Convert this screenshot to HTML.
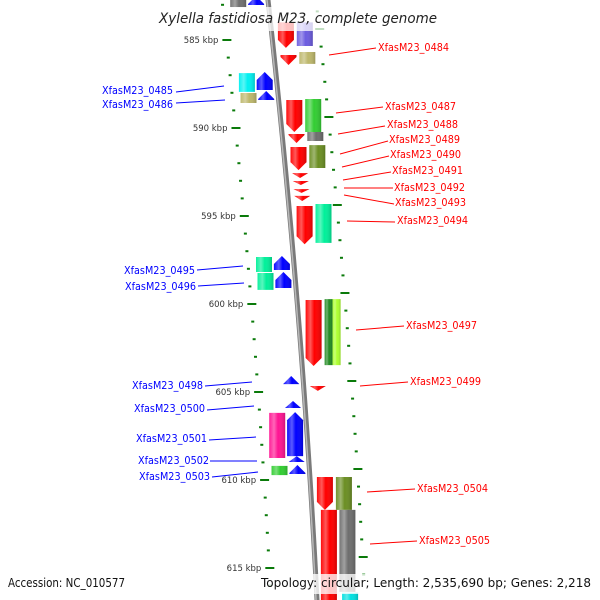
<!DOCTYPE html>
<html><head><meta charset="utf-8"><style>
html,body{margin:0;padding:0;background:#fff}
svg{display:block}
text{font-family:"DejaVu Sans","Liberation Sans",sans-serif}
</style></head><body>
<svg id="map" width="600" height="600" viewBox="0 0 600 600" xmlns="http://www.w3.org/2000/svg">
<defs>
<linearGradient id="shade" x1="0" y1="0" x2="1" y2="0">
<stop offset="0" stop-color="#fff" stop-opacity="0.05"/>
<stop offset="0.3" stop-color="#fff" stop-opacity="0.35"/>
<stop offset="0.55" stop-color="#fff" stop-opacity="0"/>
<stop offset="1" stop-color="#000" stop-opacity="0.18"/>
</linearGradient>
</defs>
<g id="ticks"></g>
<path id="bb" fill="none" stroke="#7a7a7a" stroke-width="5"/>
<path id="bb2" fill="none" stroke="#b8b8b8" stroke-width="1.5"/>
<g id="genes"></g>
<g id="labels"></g>
<rect x="150" y="7" width="300" height="24" fill="#fff" opacity="0.75"/>
<text x="159" y="23" font-size="14" font-style="italic" fill="#222" textLength="278" lengthAdjust="spacingAndGlyphs">Xylella fastidiosa M23, complete genome</text>
<rect x="0" y="574" width="600" height="20" fill="#fff" opacity="0.78"/>
<text x="8" y="587" font-size="12" fill="#111" textLength="117" lengthAdjust="spacingAndGlyphs">Accession: NC_010577</text>
<text x="261" y="587" font-size="12" fill="#111" textLength="330" lengthAdjust="spacingAndGlyphs">Topology: circular; Length: 2,535,690 bp; Genes: 2,218</text>
</svg>
<script>
// ---- data (kbp) ----
const geneStart = [584.0,585.85,588.41,590.34,591.08,592.56,593.01,593.47,593.86,594.43,599.77,604.66,609.83,611.70,
  584.0,585.68,588.35,590.23,590.97,594.32,599.72,599.72,609.83,611.70,616.40,
  582.5,586.82,587.90,597.27,598.18,604.09,605.51,606.14,608.64,609.15,
  582.5,586.88,588.01,597.33,598.24,606.19,609.20];
const geneEnd = [585.45,586.42,590.23,590.85,592.39,592.84,593.24,593.69,594.15,596.60,603.52,604.94,611.70,617.5,
  585.34,586.36,590.23,590.74,592.27,596.53,603.47,603.47,611.70,616.36,617.5,
  583.01,587.84,588.41,598.07,599.09,604.55,605.91,608.64,608.98,609.66,
  583.13,587.95,588.58,598.18,599.20,608.75,609.72];
const geneStrand = [1,1,1,1,1,1,1,1,1,1,1,1,1,0,
  0,0,0,0,0,0,0,0,0,0,0,
  -1,-1,-1,-1,-1,-1,-1,-1,-1,-1,
  0,0,0,0,0,0,0];
const geneLane = ["R1","R1","R1","R1","R1","R1","R1","R1","R1","R1","R1","R1","R1","R1",
  "R2","R2","R2","R2","R2","R2","R2a","R2b","R2","R2","R2",
  "L1","L1","L1","L1","L1","L1","L1","L1","L1","L1",
  "L2","L2","L2","L2","L2","L2","L2"];
const geneColor = ["#ff0000","#ff0000","#ff0000","#ff0000","#ff0000","#ff0000","#ff0000","#ff0000","#ff0000","#ff0000","#ff0000","#ff0000","#ff0000","#ff0000",
  "#6c5ce0","#bdb76b","#32cd32","#6e6e6e","#6b8e23","#00f09a","#228b22","#adff2f","#6b8e23","#6e6e6e","#00e0e0",
  "#0000ff","#0000ff","#0000ff","#0000ff","#0000ff","#0000ff","#0000ff","#0000ff","#0000ff","#0000ff",
  "#707070","#00f0f0","#bdb76b","#00f09a","#00f09a","#ff1493","#32cd32"];
const tickMin = 583, tickMax = 616;
const majorTicks = [585,590,595,600,605,610,615];
const labelNames = ["XfasM23_0484","XfasM23_0487","XfasM23_0488","XfasM23_0489","XfasM23_0490","XfasM23_0491","XfasM23_0492","XfasM23_0493","XfasM23_0494","XfasM23_0497","XfasM23_0499","XfasM23_0504","XfasM23_0505",
  "XfasM23_0485","XfasM23_0486","XfasM23_0495","XfasM23_0496","XfasM23_0498","XfasM23_0500","XfasM23_0501","XfasM23_0502","XfasM23_0503"];

// ---- scales ----
const Y = k => 40 + (k - 585) * 17.6;
const BB = y => 268 + 0.1117 * y - 0.00005 * y * y;
const laneOff = {R1:[6,22],R2:[25,41],R2a:[25,33],R2b:[33,41],L1:[-20,-4],L2:[-38,-22]};
const NS = "http://www.w3.org/2000/svg";
function mk(tag, attrs, parent){const e=document.createElementNS(NS,tag);for(const k in attrs)e.setAttribute(k,attrs[k]);parent.appendChild(e);return e;}

// backbone
let d="";for(let y=-5;y<=605;y+=5){d+=(y===-5?"M":"L")+(BB(y)).toFixed(2)+" "+y;}
document.getElementById("bb").setAttribute("d",d);
let d2="";for(let y=-5;y<=605;y+=5){d2+=(y===-5?"M":"L")+(BB(y)-1).toFixed(2)+" "+y;}
document.getElementById("bb2").setAttribute("d",d2);

// ticks
const tg=document.getElementById("ticks");
for(let k=tickMin;k<=tickMax;k++){
  const major=majorTicks.includes(k);
  const yl=Y(k), xl=BB(yl)-46;
  const t=mk("rect",{x:major?xl-4:xl-1.5,y:yl-1,width:major?9:3,height:2,fill:"#0a7a0a"},tg);
  
  
  const yr=Y(k)-11, xr=BB(yr)+48;
  const r=mk("rect",{x:major?xr-4:xr-1.5,y:yr-1,width:major?9:3,height:2,fill:"#0a7a0a"},tg);
  
  
  if(major){
    const lb=mk("text",{x:xl-8,y:yl+3,"font-size":"8.5","text-anchor":"end",fill:"#333"},tg);
    lb.textContent=k+" kbp";
    
    
  }
}

// genes
const gg=document.getElementById("genes");
for(let i=0;i<geneStart.length;i++){
  const y1=Y(geneStart[i]), y2=Y(geneEnd[i]), ym=(y1+y2)/2;
  const b=BB(ym), o=laneOff[geneLane[i]];
  const x1=b+o[0], x2=b+o[1], xm=(x1+x2)/2;
  const len=y2-y1, h=Math.min(8,len);
  let pts;
  if(geneStrand[i]===1){pts=[[x1,y1],[x2,y1],[x2,y2-h],[xm,y2],[x1,y2-h]];}
  else if(geneStrand[i]===-1){pts=[[xm,y1],[x2,y1+h],[x2,y2],[x1,y2],[x1,y1+h]];}
  else{pts=[[x1,y1],[x2,y1],[x2,y2],[x1,y2]];}
  const p=pts.map(q=>q[0].toFixed(1)+","+q[1].toFixed(1)).join(" ");
  const g=mk("polygon",{points:p,fill:geneColor[i]},gg);
  
  
  const s=mk("polygon",{points:p,fill:"url(#shade)"},gg);
  
  
}

// labels: [textX, textY, lineX1, lineY1, lineX2, lineY2, side]
const labelPos=[[378,47,329,55,376,48,1],[385,106,336,113,383,107,1],[387,124,338,134,385,126,1],[389,139,340,154,388,141,1],[390,154,342,167,389,156,1],[392,170,343,180,391,172,1],[394,187,344,188,393,188,1],[395,202,344,195,394,204,1],[397,220,347,221,395,222,1],[406,325,356,330,404,326,1],[410,381,360,386,408,382,1],[417,488,367,492,415,489,1],[419,540,370,544,417,541,1],
  [173,90,176,92,224,86,-1],[173,104,176,103,225,100,-1],[195,270,197,270,243,266,-1],[196,286,198,286,244,283,-1],[203,385,205,386,252,382,-1],[205,408,207,410,254,406,-1],[207,438,209,440,256,437,-1],[209,460,210,461,257,461,-1],[210,476,212,477,258,472,-1]];
const lgp=document.getElementById("labels");
labelPos.forEach((L,i)=>{
  const col=L[6]===1?"#ff0000":"#0000ff";
  const ln=mk("line",{x1:L[2],y1:L[3],x2:L[4],y2:L[5],stroke:col,"stroke-width":"1"},lgp);
  
  
  const t=mk("text",{x:L[0],y:L[1]+4,"font-size":"10.5",fill:col,"text-anchor":L[6]===1?"start":"end",textLength:"71",lengthAdjust:"spacingAndGlyphs"},lgp);
  t.textContent=labelNames[i];
  
  
});
</script>
</body></html>
